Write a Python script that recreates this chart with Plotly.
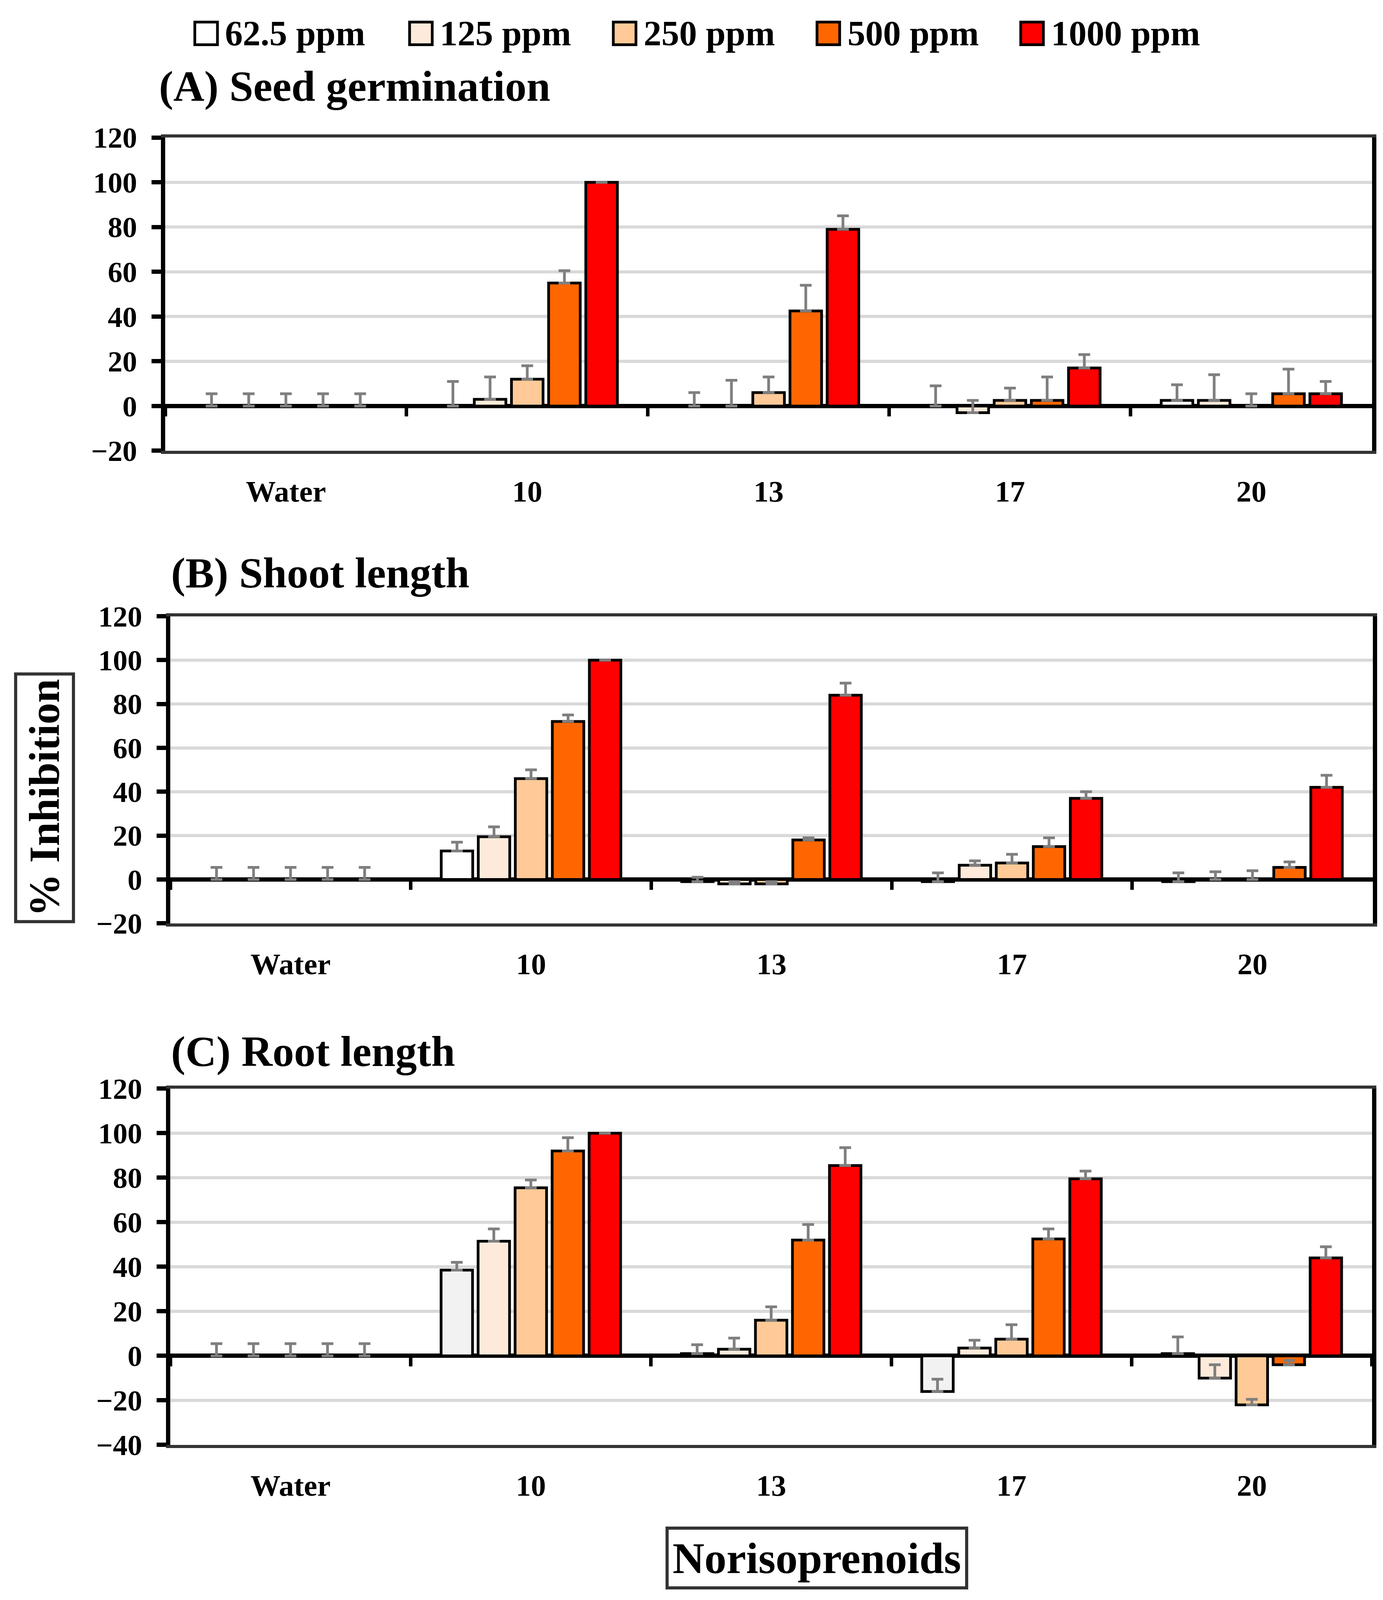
import plotly.graph_objects as go

GROUPS = ["Water", "10", "13", "17", "20"]
SERIES = ["62.5 ppm", "125 ppm", "250 ppm", "500 ppm", "1000 ppm"]

# Panel A: Seed germination (% inhibition), rows = series, cols = groups
A_VALS = [
    [0, 0, 0, 0, 2.5],
    [0, 3, 0, -3, 2.5],
    [0, 12, 6, 2.5, 0],
    [0, 55, 42.5, 2.5, 5.5],
    [0, 100, 79, 17, 5.5],
]
A_ERR = [
    [5.5, 11, 6, 9, 7],
    [5.5, 10, 11.5, 5.5, 11.5],
    [5.5, 6, 7, 5.5, 5.5],
    [5.5, 5.5, 11.5, 10.5, 11],
    [5.5, 0, 6, 6, 5.5],
]

# Panel B: Shoot length
B_VALS = [
    [0, 13, -1, -1, -1],
    [0, 19.5, -2, 6.5, 0],
    [0, 46, -2, 7.5, 0],
    [0, 72, 18, 15, 5.5],
    [0, 100, 84, 37, 42],
]
B_ERR = [
    [5.5, 4, 2, 4, 4],
    [5.5, 4.5, 1, 2, 3.5],
    [5.5, 4, 1, 4, 4],
    [5.5, 3, 1, 4, 2.5],
    [5.5, 0, 5.5, 3, 5.5],
]

# Panel C: Root length
C_VALS = [
    [0, 38.5, 1, -16, 1],
    [0, 51.5, 3, 3.5, -10],
    [0, 75.5, 16, 7.5, -22],
    [0, 92, 52, 52.5, -4],
    [0, 100, 85.5, 79.5, 44],
]
C_ERR = [
    [5.5, 3.5, 4, 5.5, 7.5],
    [5.5, 5.5, 5, 3.5, 6],
    [5.5, 3.5, 6, 6.5, 2.5],
    [5.5, 6, 7, 4.5, 2],
    [5.5, 0, 8, 3.5, 5],
]

TITLES = ["(A) Seed germination", "(B) Shoot length", "(C) Root length"]
Y_RANGES = [[-20, 120], [-20, 120], [-40, 120]]

COLORS_AB = ["#FFFFFF", "#FDEADA", "#FFCA98", "#FF6600", "#FF0000"]
COLORS_C = ["#F2F2F2", "#FDEADA", "#FFCA98", "#FF6600", "#FF0000"]

FONT = "Liberation Serif"
X_DOMAINS = [[0.1172, 0.9898], [0.1209, 0.9903], [0.1209, 0.9898]]
Y_DOMAINS = [[0.7203, 0.9160], [0.4250, 0.6169], [0.0991, 0.3217]]
TITLE_POS = [(0.112, 0.9480), (0.1209, 0.6440), (0.1209, 0.3450)]

fig = go.Figure()

panels = [(A_VALS, A_ERR, COLORS_AB), (B_VALS, B_ERR, COLORS_AB), (C_VALS, C_ERR, COLORS_C)]
for p, (vals, errs, colors) in enumerate(panels):
    xa = "x" if p == 0 else f"x{p+1}"
    ya = "y" if p == 0 else f"y{p+1}"
    for s, name in enumerate(SERIES):
        fig.add_trace(go.Bar(
            x=GROUPS, y=vals[s], name=name, xaxis=xa, yaxis=ya,
            marker=dict(color=colors[s], line=dict(color="black", width=7)),
            error_y=dict(type="data", array=errs[s], arrayminus=[0] * len(GROUPS),
                         symmetric=False, color="#7F7F7F", thickness=7, width=15),
            showlegend=False, hoverinfo="skip",
        ))
    # overlay axis carrying the group-boundary ticks on the zero line
    fig.add_trace(go.Scatter(
        x=GROUPS, y=[0] * len(GROUPS), mode="markers", marker=dict(opacity=0),
        xaxis=f"x{p+4}", yaxis=ya, showlegend=False, hoverinfo="skip",
    ))

layout = dict(
    width=3541, height=4097, margin=dict(l=0, r=0, t=0, b=0, autoexpand=False),
    paper_bgcolor="white", plot_bgcolor="white",
    barmode="group", bargap=0.23, bargroupgap=0.15,
    font=dict(family=FONT, color="black"),
    showlegend=False,
)

for p in range(3):
    xk = "xaxis" if p == 0 else f"xaxis{p+1}"
    yk = "yaxis" if p == 0 else f"yaxis{p+1}"
    ya = "y" if p == 0 else f"y{p+1}"
    xa = "x" if p == 0 else f"x{p+1}"
    y0, y1 = Y_DOMAINS[p]
    r0, r1 = Y_RANGES[p]
    layout[xk] = dict(
        domain=X_DOMAINS[p], anchor=ya, type="category", categoryarray=GROUPS,
        range=[-0.5, 4.5], showline=True, linecolor="#333333", linewidth=8, mirror=True,
        ticks="", showgrid=False, ticklabelstandoff=30, automargin=False,
        tickfont=dict(family=FONT, size=77, color="black", weight="bold"),
    )
    layout[yk] = dict(
        domain=Y_DOMAINS[p], anchor=xa, range=Y_RANGES[p], dtick=20, tick0=0,
        showline=True, linecolor="black", linewidth=11, mirror=True,
        ticks="outside", ticklen=24, tickwidth=11, tickcolor="black",
        showgrid=True, gridcolor="#D9D9D9", gridwidth=8,
        zeroline=True, zerolinecolor="black", zerolinewidth=11,
        tickfont=dict(family=FONT, size=75, color="black", weight="bold"),
        ticklabelstandoff=22, automargin=False,
    )
    pos = y0 + (0 - r0) / (r1 - r0) * (y1 - y0)
    layout[f"xaxis{p+4}"] = dict(
        overlaying=xa, anchor="free", position=pos, type="category",
        categoryarray=GROUPS, range=[-0.5, 4.5], tickson="boundaries",
        ticks="outside", ticklen=26, tickwidth=9, tickcolor="black",
        showticklabels=False, showline=False, showgrid=False, zeroline=False,
        domain=X_DOMAINS[p], automargin=False,
    )

fig.update_layout(**layout)

annotations = []
for p, t in enumerate(TITLES):
    annotations.append(dict(
        text=t, x=TITLE_POS[p][0], y=TITLE_POS[p][1], xref="paper", yref="paper",
        xanchor="left", yanchor="middle", showarrow=False,
        font=dict(family=FONT, size=110, color="black", weight="bold"),
    ))

# legend (boxes + labels)
LEG_X = [0.1386, 0.2939, 0.4412, 0.5885, 0.7358]
box_w, box_h = 58 / 3541, 58 / 4097
leg_y = 0.9811
shapes = []
for i, name in enumerate(SERIES):
    shapes.append(dict(
        type="rect", xref="paper", yref="paper",
        x0=LEG_X[i], x1=LEG_X[i] + box_w, y0=leg_y - box_h / 2, y1=leg_y + box_h / 2,
        fillcolor=COLORS_AB[i], line=dict(color="black", width=7),
    ))
    annotations.append(dict(
        text=name, x=LEG_X[i] + box_w + 0.005, y=leg_y, xref="paper", yref="paper",
        xanchor="left", yanchor="middle", showarrow=False,
        font=dict(family=FONT, size=91, color="black", weight="bold"),
    ))

annotations.append(dict(
    text="% Inhibition", x=0.0300, y=0.5035, xref="paper", yref="paper",
    xanchor="center", yanchor="middle", showarrow=False, textangle=-90,
    bordercolor="#333333", borderwidth=8, borderpad=9, bgcolor="white",
    font=dict(family=FONT, size=110, color="black", weight="bold"),
))
annotations.append(dict(
    text="Norisoprenoids", x=0.5885, y=0.0285, xref="paper", yref="paper",
    xanchor="center", yanchor="middle", showarrow=False,
    bordercolor="#333333", borderwidth=8, borderpad=10, bgcolor="white",
    font=dict(family=FONT, size=113, color="black", weight="bold"),
))

fig.update_layout(annotations=annotations, shapes=shapes)
fig.write_html("out.html")
